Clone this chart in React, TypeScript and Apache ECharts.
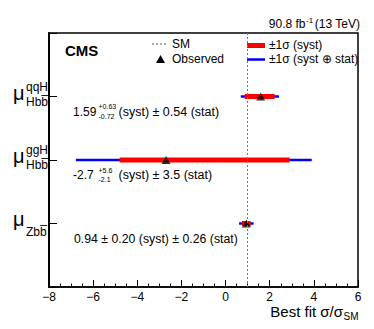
import React, { useEffect, useRef } from 'react';
import * as echarts from 'echarts';

const FONT = '"Liberation Sans", Arial, Helvetica, sans-serif';

// ---- data ----
const categories = ['qqH', 'ggH', 'Zbb'];
const supLabels = ['qqH', 'ggH', ''];
const subLabels = ['Hbb\u0305', 'Hbb\u0305', 'Zbb\u0305'];
const rowPos = [3, 2, 1];
const central = [1.59, -2.7, 0.94];
const systUp = [0.63, 5.6, 0.2];
const systDown = [0.72, 2.1, 0.2];
const statErr = [0.54, 3.5, 0.26];
const centralText = ['1.59', '-2.7', '0.94'];
const systUpText = ['+0.63', '+5.6', ''];
const systDownText = ['-0.72', '-2.1', ''];
const restText = ['(syst) \u00b1 0.54 (stat)', '(syst) \u00b1 3.5 (stat)', ''];
const fullText = ['', '', '0.94 \u00b1 0.20 (syst) \u00b1 0.26 (stat)'];
const xMin = -8;
const xMax = 6;
const xInterval = 2;
const smValue = 1;

export default function App() {
  const ref = useRef<HTMLDivElement>(null);
  useEffect(() => {
    const chart = echarts.init(ref.current!, null, { renderer: 'svg' });

    const totUp = systUp.map((s, i) => Math.sqrt(s * s + statErr[i] * statErr[i]));
    const totDown = systDown.map((s, i) => Math.sqrt(s * s + statErr[i] * statErr[i]));
    const blueData = central.map((c, i) => [c - totDown[i], c + totUp[i], rowPos[i]]);
    const redData = central.map((c, i) => [c - systDown[i], c + systUp[i], rowPos[i]]);

    const mkRender = (color: string, width: number) => (params: any, api: any) => {
      const p1 = api.coord([api.value(0), api.value(2)]);
      const p2 = api.coord([api.value(1), api.value(2)]);
      return {
        type: 'line',
        shape: { x1: p1[0], y1: p1[1], x2: p2[0], y2: p2[1] },
        style: { stroke: color, lineWidth: width, lineCap: 'butt' },
      };
    };

    chart.setOption({
      animation: false,
      grid: {
        left: 49,
        right: 16,
        top: 33,
        bottom: 42,
        show: true,
        borderColor: '#000',
        borderWidth: 1.5,
        backgroundColor: 'transparent',
      },
      xAxis: {
        type: 'value',
        min: xMin,
        max: xMax,
        interval: xInterval,
        axisLine: { show: true, onZero: false, lineStyle: { color: '#000', width: 1.5 } },
        axisTick: { show: true, inside: true, length: 7, lineStyle: { color: '#000', width: 1 } },
        minorTick: { show: true, splitNumber: 4, length: 3.5, lineStyle: { color: '#000', width: 1 } },
        splitLine: { show: false },
        minorSplitLine: { show: false },
        axisLabel: {
          margin: 4,
          fontSize: 12,
          color: '#000',
          fontFamily: FONT,
          formatter: (v: number) => (v < 0 ? '\u2212' + Math.abs(v) : String(v)),
        },
      },
      yAxis: {
        type: 'value',
        min: 0,
        max: 4,
        interval: 1,
        axisLine: { show: true, onZero: false, lineStyle: { color: '#000', width: 2 } },
        axisTick: { show: true, inside: true, length: 8, lineStyle: { color: '#000', width: 1 } },
        axisLabel: { show: false },
        splitLine: { show: false },
      },
      series: [
        {
          type: 'custom',
          renderItem: mkRender('#0000ff', 2.5),
          encode: { x: [0, 1], y: 2 },
          data: blueData,
          z: 2,
        },
        {
          type: 'custom',
          renderItem: mkRender('#ff0000', 5),
          encode: { x: [0, 1], y: 2 },
          data: redData,
          z: 3,
        },
        {
          type: 'scatter',
          symbol: 'triangle',
          symbolSize: [9, 8],
          itemStyle: { color: '#000' },
          data: central.map((c, i) => [c, rowPos[i]]),
          z: 4,
          markLine: {
            silent: true,
            symbol: ['none', 'none'],
            label: { show: false },
            lineStyle: { color: '#777', type: [2, 2], width: 1 },
            data: [{ xAxis: smValue }],
          },
        },
      ],
    });

    const txt = (text: string, x: number, y: number, size: number, opts: any = {}) => ({
      type: 'text',
      x,
      y,
      silent: true,
      style: {
        text,
        font: `${opts.bold ? 'bold ' : ''}${size}px ${FONT}`,
        fill: '#000',
        textAlign: opts.align || 'left',
        textVerticalAlign: 'middle',
      },
    });

    const g: any[] = [];
    // header
    g.push(txt('(13 TeV)', 360, 24, 12, { align: 'right' }));
    g.push(txt('90.8 fb', 305.5, 24, 12, { align: 'right' }));
    g.push(txt('-1', 306, 20, 8));
    g.push(txt('CMS', 65, 50, 15, { bold: true }));
    // legend
    g.push({ type: 'line', silent: true, shape: { x1: 152, y1: 44, x2: 168, y2: 44 }, style: { stroke: '#555', lineWidth: 1, lineDash: [2, 2] } });
    g.push(txt('SM', 172, 44, 12));
    g.push({ type: 'polygon', silent: true, shape: { points: [[160.5, 55], [156, 63], [165, 63]] }, style: { fill: '#000' } });
    g.push(txt('Observed', 172, 59, 12));
    g.push({ type: 'line', silent: true, shape: { x1: 247, y1: 45.5, x2: 265, y2: 45.5 }, style: { stroke: '#ff0000', lineWidth: 5 } });
    g.push(txt('\u00b11\u03c3 (syst)', 269, 45, 12));
    g.push({ type: 'line', silent: true, shape: { x1: 247, y1: 59.5, x2: 265, y2: 59.5 }, style: { stroke: '#0000ff', lineWidth: 2.5 } });
    g.push(txt('\u00b11\u03c3 (syst \u2295 stat)', 269, 59, 12));
    // axis title
    g.push(txt('Best fit \u03c3/\u03c3', 343, 311, 15, { align: 'right' }));
    g.push(txt('SM', 343.5, 316, 10));

    categories.forEach((_, i) => {
      const py = chart.convertToPixel({ gridIndex: 0 }, [0, rowPos[i]])[1];
      const hasSup = supLabels[i] !== '';
      g.push(txt('\u03bc', 13, py - (hasSup ? 4 : 5), 20));
      if (hasSup) g.push(txt(supLabels[i], 26, py - 10, 12));
      g.push(txt(subLabels[i], 26, py + (hasSup ? 5 : 8), 12));
      const ty = py + 15;
      if (fullText[i]) {
        g.push(txt(fullText[i], 74, ty, 12.3));
      } else {
        g.push(txt(centralText[i], 73, ty, 12));
        g.push(txt(systUpText[i], 98.5, ty - 5, 7));
        g.push(txt(systDownText[i], 98.5, ty + 4.5, 7));
        g.push(txt(restText[i], 118.5, ty, 12.5));
      }
    });

    chart.setOption({ graphic: g });

    return () => chart.dispose();
  }, []);
  return <div ref={ref} style={{ position: 'absolute', left: 0, top: 0, width: 374, height: 329 }} />;
}
